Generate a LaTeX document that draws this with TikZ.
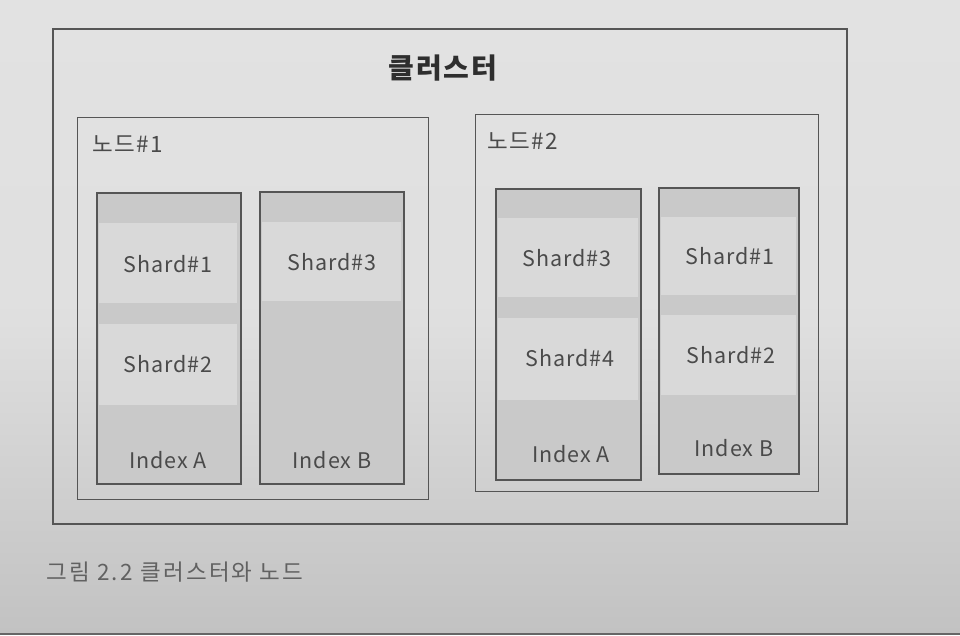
\documentclass[tikz,border=0pt]{standalone}
\usepackage{fontspec}
\setmainfont{Noto Sans CJK KR}
\definecolor{pagetop}{HTML}{E2E2E2}
\definecolor{pagebot}{HTML}{C2C2C2}
\definecolor{dband}{HTML}{C9C9C9}
\definecolor{lband}{HTML}{D9D9D9}
\definecolor{ink}{HTML}{4A4A4A}
\definecolor{edge}{HTML}{555555}
\tikzset{
  frame/.style={draw=edge, line width=1.4pt, inner sep=0pt},
  idxbox/.style={draw=edge, line width=1.3pt, fill=dband, inner sep=0pt},
  lbl/.style={text=ink, font=\fontsize{21.5}{24}\selectfont\addfontfeatures{LetterSpace=4}, inner sep=0pt},
  nodelbl/.style={text=ink, font=\fontsize{22.5}{24}\selectfont\addfontfeatures{LetterSpace=6}, inner sep=0pt, anchor=west},
}
\begin{document}
\begin{tikzpicture}[x=1pt,y=-1pt]
\useasboundingbox (0,0) rectangle (960,635);
\shade[top color=pagetop, bottom color=pagebot, middle color=pagetop!92!pagebot] (0,0) rectangle (960,633);
\fill[black!60] (0,633) rectangle (960,635);
% cluster
\node[frame, line width=2.2pt, minimum width=794pt, minimum height=495pt, anchor=north west] (cluster) at (52,28) {};
\node[text=black!82, font=\fontsize{28}{30}\selectfont\bfseries\addfontfeatures{LetterSpace=6}, inner sep=0pt] (ctitle) at (443,68) {클러스터};
% node 1
\node[frame, minimum width=351pt, minimum height=382pt, anchor=north west] (n1) at (77,117) {};
\node[nodelbl] (n1l) at (92,144) {노드\#1};
% node 2
\node[frame, minimum width=343pt, minimum height=377pt, anchor=north west] (n2) at (475,114) {};
\node[nodelbl] (n2l) at (487,141) {노드\#2};
% index boxes
\node[idxbox, minimum width=143pt, minimum height=290pt, anchor=north west] (a1) at (97,193) {};
\node[idxbox, minimum width=143pt, minimum height=291pt, anchor=north west] (b1) at (260,192) {};
\node[idxbox, minimum width=144pt, minimum height=290pt, anchor=north west] (a2) at (496,189) {};
\node[idxbox, minimum width=139pt, minimum height=285pt, anchor=north west] (b2) at (659,188) {};
% light shard bands
\fill[lband] (99,223) rectangle (237,303);
\fill[lband] (99,324) rectangle (237,405);
\fill[lband] (262,222) rectangle (401,301);
\fill[lband] (498,218) rectangle (638,297);
\fill[lband] (498,318) rectangle (638,400);
\fill[lband] (661,217) rectangle (796,295);
\fill[lband] (661,315) rectangle (796,395);
% redraw index borders on top
\foreach \n in {a1,b1,a2,b2} \draw[edge, line width=1.3pt] (\n.north west) rectangle (\n.south east);
% texts
\node[lbl] (s11) at (168,264) {Shard\#1};
\node[lbl] (s12) at (168,364) {Shard\#2};
\node[lbl] (ia1) at (168,460) {Index A};
\node[lbl] (s13) at (332,262) {Shard\#3};
\node[lbl] (ib1) at (332,460) {Index B};
\node[lbl] (s23) at (567,258) {Shard\#3};
\node[lbl] (s24) at (570,358) {Shard\#4};
\node[lbl] (ia2) at (571,454) {Index A};
\node[lbl] (s21) at (730,256) {Shard\#1};
\node[lbl] (s22) at (731,355) {Shard\#2};
\node[lbl] (ib2) at (734,448) {Index B};
% caption
\node[text=black!62, font=\fontsize{22.5}{24}\selectfont\addfontfeatures{LetterSpace=10}, inner sep=0pt, anchor=west] (cap) at (46,572) {그림 2.2 클러스터와 노드};
\end{tikzpicture}
\end{document}
